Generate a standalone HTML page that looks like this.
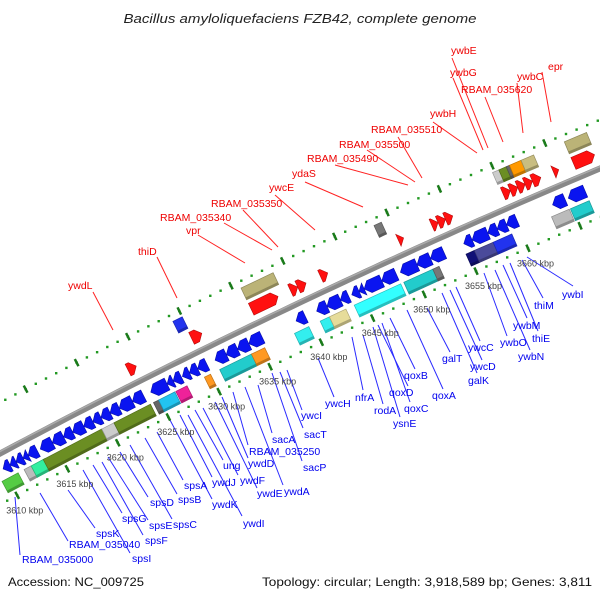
<!DOCTYPE html>
<html><head><meta charset="utf-8"><style>
html,body{margin:0;padding:0;background:#fff;}
svg{display:block;font-family:"Liberation Sans",sans-serif;}
</style></head><body>
<svg id="map" width="600" height="600" viewBox="0 0 600 600" xmlns="http://www.w3.org/2000/svg">
<rect x="0" y="0" width="600" height="600" fill="#fff"/>
<text x="300" y="23" text-anchor="middle" font-style="italic" font-size="13" fill="#222" textLength="353" lengthAdjust="spacingAndGlyphs">Bacillus amyloliquefaciens FZB42, complete genome</text>
<text x="8" y="586" font-size="12" fill="#111" textLength="136" lengthAdjust="spacingAndGlyphs">Accession: NC_009725</text>
<text x="592" y="586" text-anchor="end" font-size="12" fill="#111" textLength="330" lengthAdjust="spacingAndGlyphs">Topology: circular; Length: 3,918,589 bp; Genes: 3,811</text>
<g id="leaders"></g>
<g id="track"></g>
<g id="labels"></g>
</svg>
<script>
// ---- data (kbp) ----
const revStarts=[3610.0,3610.7,3611.3,3612.0,3612.5,3613.7,3614.9,3616.0,3616.9,3618.0,3618.9,3619.7,3620.6,3621.5,3622.8,3624.6,3626.2,3626.8,3627.7,3628.4,3629.2,3630.9,3632.0,3633.1,3634.2,3638.8,3640.8,3641.8,3643.1,3644.2,3644.9,3645.4,3647.1,3648.9,3650.5,3651.8,3655.0,3655.8,3657.3,3658.2,3659.1,3663.5,3665.0];
const revEnds  =[3610.7,3611.3,3612.0,3612.5,3613.4,3614.9,3616.0,3616.9,3618.0,3618.9,3619.7,3620.6,3621.5,3622.8,3623.9,3626.2,3626.8,3627.6,3628.4,3629.2,3630.1,3632.0,3633.1,3634.2,3635.5,3639.7,3641.8,3643.1,3643.9,3644.9,3645.4,3647.1,3648.5,3650.5,3651.8,3653.1,3655.8,3657.3,3658.2,3659.1,3660.1,3664.7,3666.6];
const fwdStarts=[3623.7,3629.9,3635.7,3639.5,3640.2,3642.4,3649.9,3653.1,3653.7,3654.4,3659.9,3660.6,3661.3,3662.0,3662.7,3664.7,3666.6];
const fwdEnds  =[3624.5,3630.9,3638.3,3640.2,3641.0,3643.1,3650.4,3653.7,3654.4,3655.1,3660.6,3661.3,3662.0,3662.7,3663.5,3665.2,3668.6];
const lowBoxStarts=[3609.4,3611.6,3612.3,3613.5,3619.3,3620.5,3624.4,3624.9,3626.6,3629.4,3630.9,3634.0,3638.2,3640.7,3641.6,3644.0,3648.8,3651.6,3654.8,3655.6,3657.4,3663.0,3664.8];
const lowBoxEnds  =[3611.0,3612.3,3613.7,3619.3,3620.5,3624.1,3624.9,3626.5,3627.7,3630.0,3634.0,3635.3,3639.6,3641.6,3643.2,3648.5,3651.6,3652.2,3655.6,3657.4,3659.2,3664.7,3666.6];
const lowBoxColors=["#55cc44","#bbbbbb","#33eea0","#6b8e23","#cccccc","#6b8e23","#666666","#22c4f0","#ee2299","#ff9922","#22cccc","#ff9922","#33eeee","#33eeee","#e6dc9a","#33ffff","#22cccc","#777777","#111177","#4a4a9a","#2233ee","#bbbbbb","#22cccc"];
const upBoxStarts=[3629.1,3635.7,3648.5,3659.8,3660.4,3661.1,3661.4,3662.5,3666.6];
const upBoxEnds  =[3630.0,3638.8,3649.2,3660.4,3661.1,3661.4,3662.5,3663.7,3668.7];
const upBoxColors=["#2233ee","#bbb377","#777777","#cccccc","#6b8e23","#666666","#ff9900","#c8bd80","#bbb377"];
const tickKbp=[3610,3615,3620,3625,3630,3635,3640,3645,3650,3655,3660,3665];
const tickLabels=["3610 kbp","3615 kbp","3620 kbp","3625 kbp","3630 kbp","3635 kbp","3640 kbp","3645 kbp","3650 kbp","3655 kbp","3660 kbp",""];
const redNames=["ywbE","ywbG","RBAM_035620","ywbC","epr","ywbH","RBAM_035510","RBAM_035500","RBAM_035490","ydaS","ywcE","RBAM_035350","RBAM_035340","vpr","thiD","ywdL"];
const blueNames=["RBAM_035000","RBAM_035040","spsK","spsI","spsG","spsF","spsE","spsD","spsC","spsB","spsA","ywdK","ywdJ","ywdI","ung","ywdF","ywdE","ywdD","RBAM_035250","ywdA","sacA","sacP","sacT","ywcI","ywcH","nfrA","rodA","ysnE","qoxD","qoxC","qoxB","qoxA","galT","galK","ywcD","ywcC","ywbO","ywbN","ywbM","thiE","thiM","ywbI"];
// label layout (pixels): [textX, textCenterY, lineX1, lineY1, lineX2, lineY2]
const redLayout=[[451,50,452,58,488,148],[450,72,453,78,483,150],[461,89,485,97,503,142],[517,76,517,83,523,133],[548,66,542,72,551,122],[430,113,433,122,477,153],[371,129,398,137,422,178],[339,144,367,150,415,182],[307,158,335,165,408,185],[292,173,305,182,363,207],[269,187,275,195,315,230],[211,203,243,210,278,247],[160,217,224,223,272,250],[186,230,198,235,245,263],[138,251,157,257,177,298],[68,285,93,292,113,330]];
const blueLayout=[[22,559,15,497,20,555],[69,544,40,493,68,541],[96,533,68,490,95,528],[132,558,83,470,130,553],[122,518,93,465,122,513],[145,540,102,462,143,535],[149,525,108,457,148,520],[150,502,120,452,148,497],[173,524,130,445,172,519],[178,499,145,438,177,494],[184,485,157,432,183,480],[212,504,170,420,212,499],[212,482,180,415,212,477],[243,523,188,415,242,516],[223,465,195,410,223,460],[240,480,203,408,238,475],[257,493,215,402,257,488],[248,463,222,397,248,458],[249,451,233,392,248,445],[284,491,245,387,283,485],[272,439,258,385,272,433],[303,467,272,373,302,461],[304,434,280,372,303,428],[301,415,287,370,302,410],[325,403,318,358,334,397],[355,397,352,337,363,390],[374,410,363,335,383,404],[393,423,373,327,400,417],[389,392,378,325,408,386],[404,408,382,323,410,402],[404,375,390,318,415,369],[432,395,407,310,443,389],[442,358,427,308,450,352],[468,380,442,293,477,373],[470,366,450,290,482,360],[468,347,456,287,480,341],[500,342,484,273,507,336],[518,356,495,270,530,350],[513,325,503,265,527,318],[532,338,510,263,538,331],[534,305,522,260,543,298],[562,294,527,257,573,286]];

// ---- geometry ----
const CX=3380, CY=6795, R=7186;
const phiA=-Math.acos((-4-CX)/R), phiB=-Math.acos((510-CX)/R);
function ang(k){return phiA+(k-3610)/50*(phiB-phiA);}
function P(k,d){const a=ang(k);return [CX+(R+d)*Math.cos(a), CY+(R+d)*Math.sin(a)];}
const NS="http://www.w3.org/2000/svg";
const track=document.getElementById('track');
const labelsG=document.getElementById('labels');
const leadersG=document.getElementById('leaders');
function mk(tag,parent){const e=document.createElementNS(NS,tag);parent.appendChild(e);return e;}
function pts(arr){return arr.map(p=>p[0].toFixed(1)+","+p[1].toFixed(1)).join(" ");}
function shade(hex,f){const n=parseInt(hex.slice(1),16);let r=(n>>16)&255,g=(n>>8)&255,b=n&255;r=Math.round(r*f);g=Math.round(g*f);b=Math.round(b*f);return "rgb("+r+","+g+","+b+")";}

// backbone
(function(){
  let a=[],b=[];
  for(let k=3600;k<=3676;k+=1){a.push(P(k,0));b.push(P(k,1.8));}
  const bb=mk('polyline',track);
  
  
  bb.setAttribute('points',pts(a));bb.setAttribute('fill','none');bb.setAttribute('stroke','#888');bb.setAttribute('stroke-width','6');
  const hl=mk('polyline',track);
  
  
  hl.setAttribute('points',pts(b));hl.setAttribute('fill','none');hl.setAttribute('stroke','#aaa');hl.setAttribute('stroke-width','1.5');
})();

// dotted scale lines
[45,-45].forEach(function(d){
  for(let k=3600;k<=3676;k++){
    const p=P(k,d);
    const dot=mk('rect',track);
    
    
    dot.setAttribute('x',(p[0]-1.2).toFixed(1));dot.setAttribute('y',(p[1]-1.2).toFixed(1));
    dot.setAttribute('width','2.4');dot.setAttribute('height','2.4');dot.setAttribute('fill','#229922');
  }
});
tickKbp.forEach(function(k,i){
  [45,-45].forEach(function(d){
    const p1=P(k,d-4),p2=P(k,d+4);
    const t=mk('line',track);
    
    
    t.setAttribute('x1',p1[0]);t.setAttribute('y1',p1[1]);t.setAttribute('x2',p2[0]);t.setAttribute('y2',p2[1]);
    t.setAttribute('stroke','#1a7a1a');t.setAttribute('stroke-width','2.5');
  });
  if(!tickLabels[i]) return;
  const p=P(k,-45);
  const tl=mk('text',labelsG);
  
  
  tl.setAttribute('x',(p[0]-11).toFixed(1));tl.setAttribute('y',(p[1]+18).toFixed(1));
  tl.setAttribute('font-size','9');tl.setAttribute('fill','#444');
  tl.textContent=tickLabels[i];
});

const H=6.5, HEAD=0.5;
function arrow(s,e,d,color,reverse,name){
  let poly;
  const hd=Math.min(HEAD,(e-s));
  if(reverse){
    poly=[P(s,d),P(s+hd,d+H),P(e,d+H),P(e,d-H),P(s+hd,d-H)];
  }else{
    poly=[P(e,d),P(e-hd,d-H),P(s,d-H),P(s,d+H),P(e-hd,d+H)];
  }
  const g=mk('polygon',track);
  
  
  g.setAttribute('points',pts(poly));g.setAttribute('fill',color);
  g.setAttribute('stroke',shade(color,0.7));g.setAttribute('stroke-width','0.6');
}
function box(s,e,d,color,name){
  const poly=[P(s,d+H),P(e,d+H),P(e,d-H),P(s,d-H)];
  const g=mk('polygon',track);
  
  
  g.setAttribute('points',pts(poly));g.setAttribute('fill',color);
  g.setAttribute('stroke',shade(color,0.75));g.setAttribute('stroke-width','0.7');
  const sh=[P(s,d-H+2.5),P(e,d-H+2.5),P(e,d-H),P(s,d-H)];
  const g2=mk('polygon',track);
  
  
  g2.setAttribute('points',pts(sh));g2.setAttribute('fill',shade(color,0.75));
}
for(let i=0;i<revStarts.length;i++){arrow(revStarts[i],revEnds[i],-15,"#0a14f0",true,'reverse-cds');}
for(let i=0;i<fwdStarts.length;i++){arrow(fwdStarts[i],fwdEnds[i],15,"#ff1010",false,'forward-cds');}
for(let i=0;i<lowBoxStarts.length;i++){box(lowBoxStarts[i],lowBoxEnds[i],-32,lowBoxColors[i],'reverse-feature-box');}
for(let i=0;i<upBoxStarts.length;i++){box(upBoxStarts[i],upBoxEnds[i],32,upBoxColors[i],'forward-feature-box');}

// gene labels
function addLabels(names,layout,color,lineColor,kind){
  names.forEach(function(n,i){
    const L=layout[i];
    const ln=mk('line',leadersG);
    
    
    ln.setAttribute('x1',L[2]);ln.setAttribute('y1',L[3]);ln.setAttribute('x2',L[4]);ln.setAttribute('y2',L[5]);
    ln.setAttribute('stroke',lineColor);ln.setAttribute('stroke-width','1');
    const t=mk('text',labelsG);
    
    
    t.setAttribute('x',L[0]);t.setAttribute('y',L[1]+4);
    t.setAttribute('font-size','10.5');t.setAttribute('fill',color);
    t.textContent=n;
  });
}
addLabels(redNames,redLayout,"#ee0000","#ff2222",'forward');
addLabels(blueNames,blueLayout,"#0000ee","#2a2aff",'reverse');
</script>
</body></html>
